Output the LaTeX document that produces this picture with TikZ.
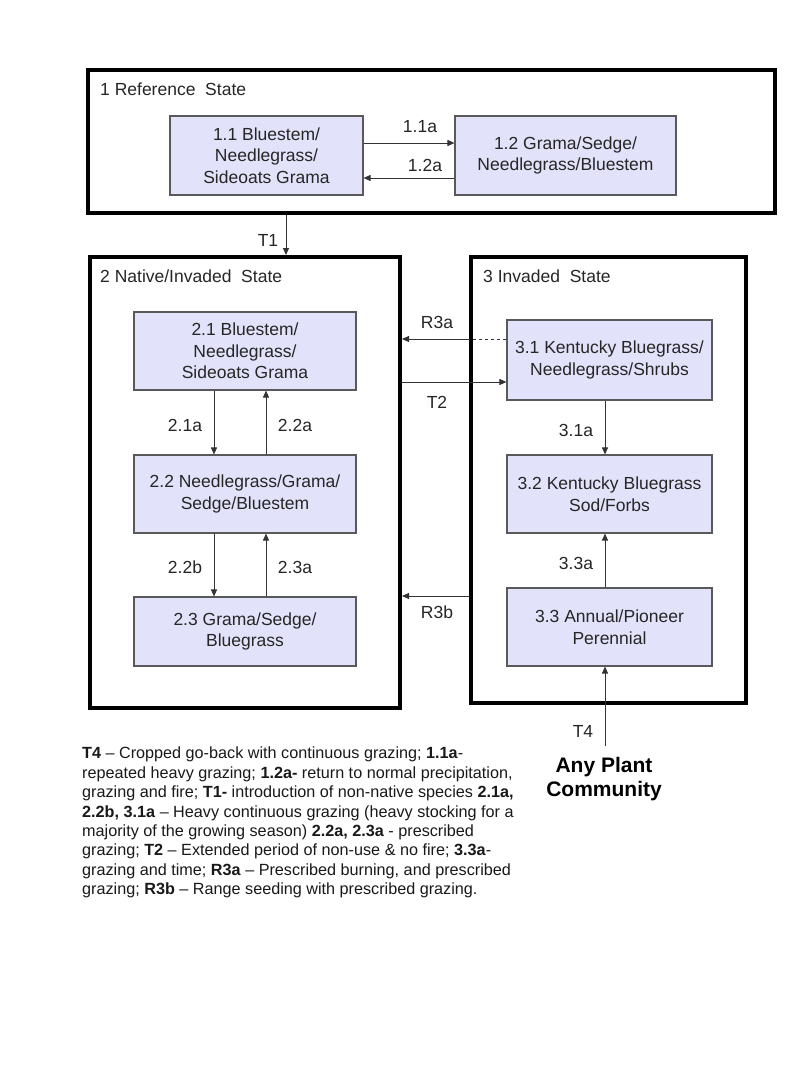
\documentclass[tikz,border=0pt]{standalone}
\usepackage{fontspec}
\setmainfont{Liberation Sans}
\usetikzlibrary{arrows.meta,calc}
\begin{document}
\begin{tikzpicture}[x=1pt,y=-1pt,
  statebox/.style={draw=black,line width=4pt,inner sep=0pt,fill=none},
  comm/.style={draw=black!65,line width=1.1pt,fill=boxfill,inner sep=2pt,align=center,
    font=\fontsize{17.5}{21.5}\selectfont,text=black!85},
  lbl/.style={font=\fontsize{17.5}{20}\selectfont,text=black!85,inner sep=0pt},
  conn/.style={draw=black!80,line width=0.9pt,-{Triangle[length=7pt,width=6pt]}},
  plain/.style={draw=black!80,line width=0.9pt}
]
\definecolor{boxfill}{RGB}{226,226,250}
\useasboundingbox (0,0) rectangle (800,1067);
\fill[white] (0,0) rectangle (800,1067);

% state boxes
\node[statebox,minimum width=687pt,minimum height=143pt] (s1) at (431.5,141.5) {};
\node[statebox,minimum width=310pt,minimum height=451pt] (s2) at (245,482.5) {};
\node[statebox,minimum width=275pt,minimum height=446pt] (s3) at (608.5,480) {};

\node[lbl,anchor=west] (s1t) at (100,89) {1 Reference\ \ State};
\node[lbl,anchor=west] (s2t) at (100,276) {2 Native/Invaded\ \ State};
\node[lbl,anchor=west] (s3t) at (483,276) {3 Invaded\ \ State};

% community boxes
\node[comm,minimum width=193pt,minimum height=79pt] (b11) at (266.5,155.5) {1.1 Bluestem/\\Needlegrass/\\Sideoats Grama};
\node[comm,minimum width=221pt,minimum height=79pt] (b12) at (565.5,155.5) {1.2 Grama/Sedge/\\Needlegrass/Bluestem};
\node[comm,minimum width=222pt,minimum height=78pt] (b21) at (245,351) {2.1 Bluestem/\\Needlegrass/\\Sideoats Grama};
\node[comm,minimum width=222pt,minimum height=78pt] (b22) at (245,494) {2.2 Needlegrass/Grama/\\Sedge/Bluestem};
\node[comm,minimum width=222pt,minimum height=69pt] (b23) at (245,631.5) {2.3 Grama/Sedge/\\Bluegrass};
\node[comm,minimum width=205pt,minimum height=80pt] (b31) at (609.5,360) {3.1 Kentucky Bluegrass/\\Needlegrass/Shrubs};
\node[comm,minimum width=205pt,minimum height=78pt] (b32) at (609.5,494) {3.2 Kentucky Bluegrass\\Sod/Forbs};
\node[comm,minimum width=205pt,minimum height=78pt] (b33) at (609.5,627) {3.3 Annual/Pioneer\\Perennial};

\node[font=\bfseries\fontsize{21}{24}\selectfont,align=center,inner sep=0pt,anchor=north] (apc) at (604,757) {Any Plant\\Community};

% helper coordinates
\coordinate (y11) at (0,143);
\coordinate (y12) at (0,178);
\coordinate (xt1) at (286,0);
\coordinate (yr3a) at (0,339);
\coordinate (yt2) at (0,382);
\coordinate (yr3b) at (0,596);
\coordinate (xa) at (214,0);
\coordinate (xb) at (266,0);
\coordinate (xc) at (605,0);
\coordinate (t4s) at (605,746);

% connectors
\draw[conn] (b11.east |- y11) -- (b12.west |- y11);
\draw[conn] (b12.west |- y12) -- (b11.east |- y12);
\draw[conn] (s1.south -| xt1) -- (s2.north -| xt1);
\draw[plain,dashed] (b31.west |- yr3a) -- (s3.west |- yr3a);
\draw[conn] (s3.west |- yr3a) -- (s2.east |- yr3a);
\draw[conn] (s2.east |- yt2) -- (b31.west |- yt2);
\draw[conn] (s3.west |- yr3b) -- (s2.east |- yr3b);
\draw[conn] (b21.south -| xa) -- (b22.north -| xa);
\draw[conn] (b22.north -| xb) -- (b21.south -| xb);
\draw[conn] (b22.south -| xa) -- (b23.north -| xa);
\draw[conn] (b23.north -| xb) -- (b22.south -| xb);
\draw[conn] (b31.south -| xc) -- (b32.north -| xc);
\draw[conn] (b33.north -| xc) -- (b32.south -| xc);
\draw[conn] (t4s) -- (b33.south -| xc);

% labels
\node[lbl] (l11) at (420,127) {1.1a};
\node[lbl] (l12) at (425,165) {1.2a};
\node[lbl] (lt1) at (268,240) {T1};
\node[lbl] (lr3a) at (437,322) {R3a};
\node[lbl] (lt2) at (437,402) {T2};
\node[lbl] (lr3b) at (437,612) {R3b};
\node[lbl] (l21) at (185,425) {2.1a};
\node[lbl] (l22a) at (295,425) {2.2a};
\node[lbl] (l22b) at (185,567) {2.2b};
\node[lbl] (l23) at (295,567) {2.3a};
\node[lbl] (l31) at (576,430) {3.1a};
\node[lbl] (l33) at (576,563) {3.3a};
\node[lbl] (lt4) at (583,731) {T4};

% legend
\node[anchor=north west,align=left,inner sep=0pt,font=\fontsize{16.2}{19.4}\selectfont,text=black!90] (leg) at (82,747) {%
\textbf{T4} – Cropped go-back with continuous grazing; \textbf{1.1a}-\\
repeated heavy grazing; \textbf{1.2a-} return to normal precipitation,\\
grazing and fire; \textbf{T1-} introduction of non-native species \textbf{2.1a,}\\
\textbf{2.2b, 3.1a} – Heavy continuous grazing (heavy stocking for a\\
majority of the growing season) \textbf{2.2a, 2.3a} - prescribed\\
grazing; \textbf{T2} – Extended period of non-use \& no fire; \textbf{3.3a}-\\
grazing and time; \textbf{R3a} – Prescribed burning, and prescribed\\
grazing; \textbf{R3b} – Range seeding with prescribed grazing.};
\end{tikzpicture}
\end{document}
